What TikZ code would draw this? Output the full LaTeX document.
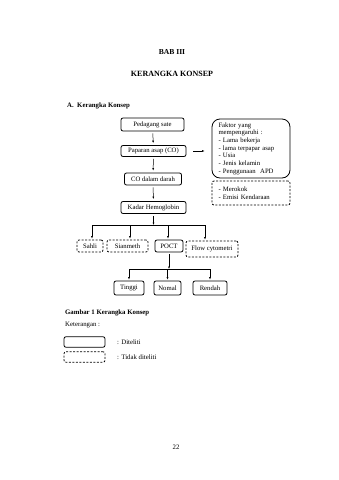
\documentclass[tikz,border=0pt]{standalone}
\usepackage{fontspec}
\setmainfont{Liberation Serif}
\usetikzlibrary{arrows.meta}

\newcommand{\isi}{\fontsize{6.7}{7.7}\selectfont}
\newcommand{\badan}{\fontsize{6.8}{8}\selectfont}

\begin{document}
\begin{tikzpicture}[x=1pt,y=-1pt,
  kotak/.style={draw,line width=.8pt,rounded corners=2,inner sep=0,font=\isi},
  putus/.style={kotak,dash pattern=on 2pt off 1.5pt},
  arr/.style={line width=.5pt,-{Latex[length=2.5pt,width=2pt]}},
  teks/.style={anchor=west,inner sep=0,font=\badan}]
\useasboundingbox[fill=white] (0,0) rectangle (339,480);
% judul
\node[font=\fontsize{7.6}{9}\selectfont\bfseries] (bab) at (172,52) {BAB III};
\node[font=\fontsize{8}{9}\selectfont\bfseries] (judul) at (172,74) {KERANGKA KONSEP};
\node[teks,font=\badan\bfseries] (subjudul) at (67,106) {A.\ \ Kerangka Konsep};
% alur utama
\node[kotak,minimum width=63,minimum height=13] (pedagang) at (152.5,124.5) {Pedagang sate};
\node[kotak,minimum width=65,minimum height=11] (paparan) at (153.5,151) {Paparan asap (CO)};
\node[kotak,minimum width=57,minimum height=12] (codarah) at (153,179) {CO dalam darah};
\node[kotak,minimum width=65,minimum height=12] (kadar) at (153.5,207.5) {Kadar Hemoglobin};
\draw[arr,shorten <=2pt,shorten >=2pt] (pedagang) -- (paparan);
\draw[arr,shorten <=2pt,shorten >=2pt] (paparan) -- (codarah);
\draw[arr,shorten <=2pt,shorten >=2pt] (codarah) -- (kadar);
% faktor
\node[kotak,rounded corners=8,minimum width=78,minimum height=59,text width=65,align=left] (faktor) at (251,148.5) {Faktor yang\\ mempengaruhi :\\ - Lama bekerja\\ - lama terpapar asap\\ - Usia\\ - Jenis kelamin\\ - Penggunaan \ APD};
\node[putus,minimum width=78,minimum height=24,text width=65,align=left] (merokok) at (251,193) {- Merokok\\ - Emisi Kendaraan};
\draw[arr] ([xshift=7pt]paparan.east) -- ([xshift=-7pt]faktor.west |- paparan);
% metode
\node[putus,minimum width=26,minimum height=12] (sahli) at (90,246) {Sahli};
\node[putus,minimum width=41,minimum height=12] (sian) at (127.5,246) {Sianmeth};
\node[kotak,minimum width=28,minimum height=12] (poct) at (169,246) {POCT};
\node[putus,minimum width=52,minimum height=16] (flow) at (212,249) {Flow cytometri};
\coordinate (cab) at (153.5,225);
\draw[arr,shorten <=2pt] (kadar) -- (cab);
\coordinate (tsahli) at (92,225);
\coordinate (tsian) at (130,225);
\coordinate (tpoct) at (168,225);
\coordinate (tflow) at (205,225);
\draw[line width=.5pt] (tsahli) -- (tflow);
\foreach \n in {sahli,sian,poct,flow}
  \draw[arr,shorten >=1pt] (t\n) -- (t\n |- \n.north);
% hasil
\node[kotak,minimum width=30,minimum height=14] (tinggi) at (129,288) {Tinggi};
\node[kotak,minimum width=27,minimum height=14] (nomal) at (167.5,288) {Nomal};
\node[kotak,minimum width=34,minimum height=14] (rendah) at (210,288) {Rendah};
\coordinate (cab2) at (169,269);
\draw[arr,shorten <=2pt] (poct) -- (cab2);
\draw[line width=.5pt] (cab2 -| tinggi) -- (cab2 -| rendah);
\foreach \n in {tinggi,nomal,rendah}
  \draw[arr,shorten >=1pt] (cab2 -| \n) -- (\n);
% keterangan
\node[teks,font=\badan\bfseries] (gambar) at (65,313) {Gambar 1 Kerangka Konsep};
\node[teks] (ket) at (65,325) {Keterangan :};
\node[kotak,minimum width=41,minimum height=10.5] (lsolid) at (84.5,342) {};
\node[putus,minimum width=41,minimum height=10.5] (lputus) at (84.5,357) {};
\node[teks] (diteliti) at (117,342) {: Diteliti};
\node[teks] (tidak) at (117,357) {: Tidak diteliti};
\node[font=\badan] (hal) at (176,447) {22};
\end{tikzpicture}
\end{document}
